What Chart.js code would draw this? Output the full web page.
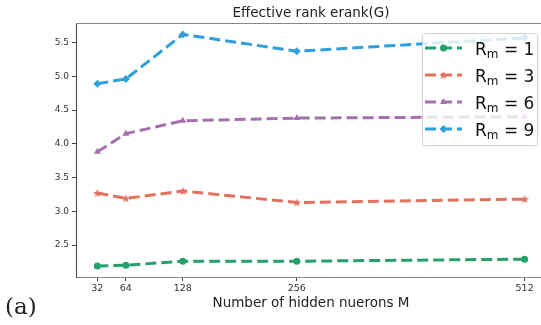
<!DOCTYPE html>
<html>
<head>
<meta charset="utf-8">
<script src="https://cdn.jsdelivr.net/npm/chart.js@4"></script>
<style>
  html, body { margin: 0; padding: 0; background: #fff; overflow: hidden; }
  #wrap { position: relative; width: 560px; height: 325px; }
</style>
</head>
<body>
<div id="wrap"><canvas id="rankChart"></canvas></div>
<script>
// data
const neurons = [32, 64, 128, 256, 512];
const rm1 = [2.19, 2.20, 2.26, 2.26, 2.29];
const rm3 = [3.27, 3.19, 3.30, 3.13, 3.18];
const rm6 = [3.88, 4.15, 4.34, 4.38, 4.40];
const rm9 = [4.89, 4.96, 5.62, 5.37, 5.57];
const yTicks = [2.5, 3.0, 3.5, 4.0, 4.5, 5.0, 5.5];
const seriesNames = ['1', '3', '6', '9'];

const GREEN = '#25a16b';
const RED = '#e1725f';
const PURPLE = '#a471ad';
const BLUE = '#2f9fdb';

// filled five point star like matplotlib '*'
function makeStar(color) {
  const c = document.createElement('canvas');
  c.width = 10; c.height = 10;
  const g = c.getContext('2d');
  g.fillStyle = color;
  g.beginPath();
  for (let i = 0; i < 10; i++) {
    const r = i % 2 === 0 ? 4.5 : 1.9;
    const a = -Math.PI / 2 + i * Math.PI / 5;
    g.lineTo(5 + r * Math.cos(a), 5.4 + r * Math.sin(a));
  }
  g.closePath();
  g.fill();
  return c;
}
const starImg = makeStar(RED);

const toPoints = vals => vals.map((v, i) => ({ x: neurons[i], y: v }));

function series(vals, color, style, radius) {
  return {
    data: toPoints(vals),
    borderColor: color,
    backgroundColor: color,
    borderWidth: 3,
    borderDash: [11, 5],
    pointStyle: style,
    pointRadius: radius,
    pointBorderWidth: 0,
    pointBackgroundColor: color,
    tension: 0
  };
}

const datasets = [
  series(rm1, GREEN, 'circle', 3.5),
  series(rm3, RED, starImg, 4.5),
  series(rm6, PURPLE, 'triangle', 4),
  series(rm9, BLUE, 'rectRot', 4)
];

const frameAndText = {
  id: 'frameAndText',
  beforeDatasetsDraw(chart) {
    const { ctx, chartArea: a } = chart;
    ctx.save();
    ctx.strokeStyle = '#888';
    ctx.lineWidth = 1;
    ctx.beginPath();
    ctx.moveTo(a.left, a.top + 0.5);
    ctx.lineTo(a.right, a.top + 0.5);
    ctx.stroke();
    ctx.restore();
  },
  afterDraw(chart) {
    const { ctx, chartArea: a } = chart;
    ctx.save();
    ctx.fillStyle = '#222';
    ctx.font = '13.5px "DejaVu Sans"';
    ctx.textAlign = 'center';
    ctx.textBaseline = 'alphabetic';
    ctx.fillText('Effective rank erank(G)', (a.left + a.right) / 2, 17);
    ctx.font = '23px "DejaVu Serif"';
    ctx.textAlign = 'left';
    ctx.fillText('(a)', 5, 314);
    ctx.restore();
  }
};

const customLegend = {
  id: 'customLegend',
  afterDatasetsDraw(chart) {
    const ctx = chart.ctx;
    const x0 = 422, y0 = 33, w = 115, h = 112;
    ctx.save();
    ctx.fillStyle = 'rgba(255,255,255,0.8)';
    ctx.strokeStyle = '#d0d0d0';
    ctx.lineWidth = 1;
    ctx.beginPath();
    ctx.roundRect(x0 + 0.5, y0 + 0.5, w, h, 3);
    ctx.fill();
    ctx.stroke();
    chart.data.datasets.forEach((ds, i) => {
      const yc = 48 + i * 27;
      ctx.strokeStyle = ds.borderColor;
      ctx.lineWidth = 3;
      ctx.setLineDash([11, 5]);
      ctx.beginPath();
      ctx.moveTo(425, yc);
      ctx.lineTo(462, yc);
      ctx.stroke();
      ctx.setLineDash([]);
      ctx.fillStyle = ds.borderColor;
      Chart.helpers.drawPoint(ctx, {
        pointStyle: ds.pointStyle,
        radius: ds.pointRadius,
        borderWidth: 0,
        rotation: 0
      }, 443.5, yc);
      ctx.fillStyle = '#111';
      ctx.textBaseline = 'alphabetic';
      ctx.textAlign = 'left';
      ctx.font = '17px "DejaVu Sans"';
      const base = yc + 6.5;
      ctx.fillText('R', 475, base);
      let x = 475 + ctx.measureText('R').width;
      ctx.font = '12px "DejaVu Sans"';
      ctx.fillText('m', x, base + 3.5);
      x += ctx.measureText('m').width;
      ctx.font = '17px "DejaVu Sans"';
      ctx.fillText(' = ' + seriesNames[i], x, base);
    });
    ctx.restore();
  }
};

new Chart(document.getElementById('rankChart'), {
  type: 'line',
  data: { datasets },
  options: {
    responsive: true,
    maintainAspectRatio: false,
    animation: false,
    layout: { padding: { left: 0, right: 14, top: 23, bottom: 0 } },
    plugins: {
      legend: { display: false },
      tooltip: { enabled: false }
    },
    scales: {
      x: {
        type: 'linear',
        min: 8,
        max: 536,
        afterBuildTicks: s => { s.ticks = neurons.map(v => ({ value: v })); },
        afterFit: s => { s.height = 48; },
        grid: { drawOnChartArea: false, drawTicks: true, tickLength: 4, color: '#444' },
        border: { display: true, color: '#888', width: 1 },
        ticks: { font: { family: 'DejaVu Sans', size: 9.5 }, color: '#333', padding: 2, maxRotation: 0 },
        title: {
          display: true,
          text: 'Number of hidden nuerons M',
          font: { family: 'DejaVu Sans', size: 13.5 },
          color: '#222',
          padding: { top: 0, bottom: 13 }
        }
      },
      y: {
        min: 2.026,
        max: 5.789,
        afterBuildTicks: s => { s.ticks = yTicks.map(v => ({ value: v })); },
        afterFit: s => { s.width = 76; },
        grid: { drawOnChartArea: false, drawTicks: true, tickLength: 4, color: '#444' },
        border: { display: true, color: '#444', width: 1 },
        ticks: {
          font: { family: 'DejaVu Sans', size: 9 },
          color: '#333',
          padding: 3,
          callback: v => v.toFixed(1)
        }
      }
    }
  },
  plugins: [frameAndText, customLegend]
});
</script>
</body>
</html>
